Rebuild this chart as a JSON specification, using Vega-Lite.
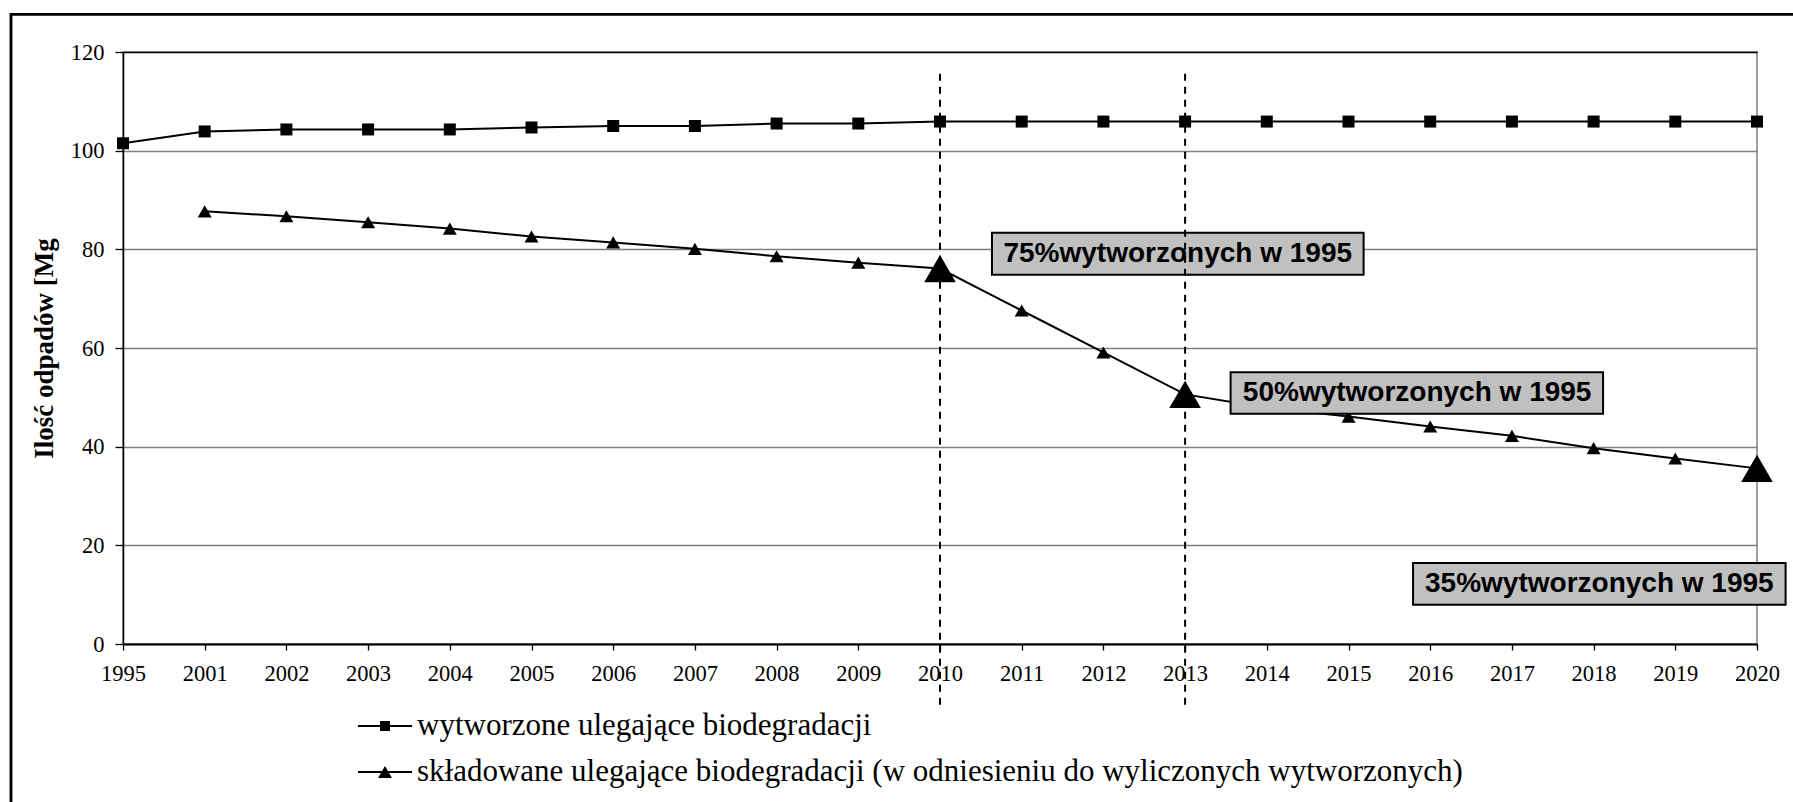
{
  "$schema": "https://vega.github.io/schema/vega-lite/v6.json",
  "width": 1634,
  "height": 592,
  "autosize": "none",
  "padding": {"left": 123, "top": 52, "right": 36, "bottom": 158},
  "background": "white",
  "config": {
    "view": {"stroke": "#808080", "strokeWidth": 1.5},
    "font": "Liberation Serif"
  },
  "datasets": {
    "dane": [
      {"pos": 0, "rok": "1995", "seria": "wytworzone ulegające biodegradacji", "wartosc": 101.5, "cel": false},
      {"pos": 1, "rok": "2001", "seria": "wytworzone ulegające biodegradacji", "wartosc": 103.9, "cel": false},
      {"pos": 2, "rok": "2002", "seria": "wytworzone ulegające biodegradacji", "wartosc": 104.3, "cel": false},
      {"pos": 3, "rok": "2003", "seria": "wytworzone ulegające biodegradacji", "wartosc": 104.3, "cel": false},
      {"pos": 4, "rok": "2004", "seria": "wytworzone ulegające biodegradacji", "wartosc": 104.3, "cel": false},
      {"pos": 5, "rok": "2005", "seria": "wytworzone ulegające biodegradacji", "wartosc": 104.7, "cel": false},
      {"pos": 6, "rok": "2006", "seria": "wytworzone ulegające biodegradacji", "wartosc": 105.0, "cel": false},
      {"pos": 7, "rok": "2007", "seria": "wytworzone ulegające biodegradacji", "wartosc": 105.0, "cel": false},
      {"pos": 8, "rok": "2008", "seria": "wytworzone ulegające biodegradacji", "wartosc": 105.5, "cel": false},
      {"pos": 9, "rok": "2009", "seria": "wytworzone ulegające biodegradacji", "wartosc": 105.5, "cel": false},
      {"pos": 10, "rok": "2010", "seria": "wytworzone ulegające biodegradacji", "wartosc": 105.9, "cel": false},
      {"pos": 11, "rok": "2011", "seria": "wytworzone ulegające biodegradacji", "wartosc": 105.9, "cel": false},
      {"pos": 12, "rok": "2012", "seria": "wytworzone ulegające biodegradacji", "wartosc": 105.9, "cel": false},
      {"pos": 13, "rok": "2013", "seria": "wytworzone ulegające biodegradacji", "wartosc": 105.9, "cel": false},
      {"pos": 14, "rok": "2014", "seria": "wytworzone ulegające biodegradacji", "wartosc": 105.9, "cel": false},
      {"pos": 15, "rok": "2015", "seria": "wytworzone ulegające biodegradacji", "wartosc": 105.9, "cel": false},
      {"pos": 16, "rok": "2016", "seria": "wytworzone ulegające biodegradacji", "wartosc": 105.9, "cel": false},
      {"pos": 17, "rok": "2017", "seria": "wytworzone ulegające biodegradacji", "wartosc": 105.9, "cel": false},
      {"pos": 18, "rok": "2018", "seria": "wytworzone ulegające biodegradacji", "wartosc": 105.9, "cel": false},
      {"pos": 19, "rok": "2019", "seria": "wytworzone ulegające biodegradacji", "wartosc": 105.9, "cel": false},
      {"pos": 20, "rok": "2020", "seria": "wytworzone ulegające biodegradacji", "wartosc": 105.9, "cel": false},
      {"pos": 1, "rok": "2001", "seria": "składowane ulegające biodegradacji (w odniesieniu do wyliczonych wytworzonych)", "wartosc": 87.7, "cel": false},
      {"pos": 2, "rok": "2002", "seria": "składowane ulegające biodegradacji (w odniesieniu do wyliczonych wytworzonych)", "wartosc": 86.7, "cel": false},
      {"pos": 3, "rok": "2003", "seria": "składowane ulegające biodegradacji (w odniesieniu do wyliczonych wytworzonych)", "wartosc": 85.5, "cel": false},
      {"pos": 4, "rok": "2004", "seria": "składowane ulegające biodegradacji (w odniesieniu do wyliczonych wytworzonych)", "wartosc": 84.2, "cel": false},
      {"pos": 5, "rok": "2005", "seria": "składowane ulegające biodegradacji (w odniesieniu do wyliczonych wytworzonych)", "wartosc": 82.6, "cel": false},
      {"pos": 6, "rok": "2006", "seria": "składowane ulegające biodegradacji (w odniesieniu do wyliczonych wytworzonych)", "wartosc": 81.4, "cel": false},
      {"pos": 7, "rok": "2007", "seria": "składowane ulegające biodegradacji (w odniesieniu do wyliczonych wytworzonych)", "wartosc": 80.1, "cel": false},
      {"pos": 8, "rok": "2008", "seria": "składowane ulegające biodegradacji (w odniesieniu do wyliczonych wytworzonych)", "wartosc": 78.6, "cel": false},
      {"pos": 9, "rok": "2009", "seria": "składowane ulegające biodegradacji (w odniesieniu do wyliczonych wytworzonych)", "wartosc": 77.3, "cel": false},
      {"pos": 10, "rok": "2010", "seria": "składowane ulegające biodegradacji (w odniesieniu do wyliczonych wytworzonych)", "wartosc": 76.1, "cel": true},
      {"pos": 11, "rok": "2011", "seria": "składowane ulegające biodegradacji (w odniesieniu do wyliczonych wytworzonych)", "wartosc": 67.6, "cel": false},
      {"pos": 12, "rok": "2012", "seria": "składowane ulegające biodegradacji (w odniesieniu do wyliczonych wytworzonych)", "wartosc": 59.1, "cel": false},
      {"pos": 13, "rok": "2013", "seria": "składowane ulegające biodegradacji (w odniesieniu do wyliczonych wytworzonych)", "wartosc": 50.6, "cel": true},
      {"pos": 14, "rok": "2014", "seria": "składowane ulegające biodegradacji (w odniesieniu do wyliczonych wytworzonych)", "wartosc": 47.9, "cel": false},
      {"pos": 15, "rok": "2015", "seria": "składowane ulegające biodegradacji (w odniesieniu do wyliczonych wytworzonych)", "wartosc": 46.1, "cel": false},
      {"pos": 16, "rok": "2016", "seria": "składowane ulegające biodegradacji (w odniesieniu do wyliczonych wytworzonych)", "wartosc": 44.1, "cel": false},
      {"pos": 17, "rok": "2017", "seria": "składowane ulegające biodegradacji (w odniesieniu do wyliczonych wytworzonych)", "wartosc": 42.2, "cel": false},
      {"pos": 18, "rok": "2018", "seria": "składowane ulegające biodegradacji (w odniesieniu do wyliczonych wytworzonych)", "wartosc": 39.7, "cel": false},
      {"pos": 19, "rok": "2019", "seria": "składowane ulegające biodegradacji (w odniesieniu do wyliczonych wytworzonych)", "wartosc": 37.6, "cel": false},
      {"pos": 20, "rok": "2020", "seria": "składowane ulegające biodegradacji (w odniesieniu do wyliczonych wytworzonych)", "wartosc": 35.6, "cel": true}
    ],
    "opisy": [
      {"tekst": "75%wytworzonych w 1995", "x1": 10.636, "x2": 15.185, "y1": 74.85, "y2": 83.37, "xm": 12.91, "ym": 79.11},
      {"tekst": "50%wytworzonych w 1995", "x1": 13.557, "x2": 18.116, "y1": 46.65, "y2": 55.09, "xm": 15.84, "ym": 50.87},
      {"tekst": "35%wytworzonych w 1995", "x1": 15.79, "x2": 20.35, "y1": 7.97, "y2": 16.43, "xm": 18.07, "ym": 12.2}
    ],
    "znaczniki": [
      {"pos": 10, "gora": 115.6, "dol": -12.5},
      {"pos": 13, "gora": 115.6, "dol": -12.5}
    ]
  },
  "layer": [
    {
      "data": {"name": "znaczniki"},
      "mark": {"type": "rect", "fill": null, "fillOpacity": 0, "stroke": "black", "strokeWidth": 2.5},
      "encoding": {
        "x": {"datum": -1.371, "type": "quantitative", "scale": {"domain": [0, 20], "nice": false, "zero": false}},
        "x2": {"datum": 22},
        "y": {"datum": 127.65, "type": "quantitative", "scale": {"domain": [0, 120], "nice": false}},
        "y2": {"datum": -40}
      }
    },
    {
      "data": {"name": "dane"},
      "mark": {"type": "line", "color": "black", "strokeWidth": 2},
      "encoding": {
        "x": {
          "field": "pos", "type": "quantitative",
          "scale": {"domain": [0, 20], "nice": false, "zero": false},
          "axis": {
            "values": [0,1,2,3,4,5,6,7,8,9,10,11,12,13,14,15,16,17,18,19,20],
            "labelExpr": "['1995','2001','2002','2003','2004','2005','2006','2007','2008','2009','2010','2011','2012','2013','2014','2015','2016','2017','2018','2019','2020'][datum.value]",
            "title": null,
            "grid": false,
            "labelFont": "Liberation Serif",
            "labelFontSize": 22.5,
            "labelColor": "black",
            "labelPadding": 12,
            "labelFlush": false,
            "labelOverlap": false,
            "tickSize": 6,
            "tickColor": "black",
            "tickWidth": 1.3,
            "domainColor": "black",
            "domainWidth": 2
          }
        },
        "y": {
          "field": "wartosc", "type": "quantitative",
          "scale": {"domain": [0, 120], "nice": false},
          "axis": {
            "values": [0, 20, 40, 60, 80, 100, 120],
            "title": "Ilość odpadów [Mg",
            "titleFont": "Liberation Serif",
            "titleFontSize": 27,
            "titleFontWeight": "bold",
            "titleColor": "black",
            "titlePadding": 12,
            "labelFont": "Liberation Serif",
            "labelFontSize": 22.5,
            "labelColor": "black",
            "labelPadding": 11,
            "tickSize": 8,
            "tickColor": "black",
            "tickWidth": 1.3,
            "domainColor": "black",
            "domainWidth": 1.5,
            "grid": true,
            "gridColor": {"condition": {"test": "datum.value === 120", "value": "black"}, "value": "#808080"},
            "gridWidth": 1.5
          }
        },
        "detail": {"field": "seria", "type": "nominal"}
      }
    },
    {
      "data": {"name": "dane"},
      "transform": [{"filter": "datum.seria === 'wytworzone ulegające biodegradacji'"}],
      "mark": {"type": "point", "shape": "square", "size": 144, "filled": true, "color": "black", "opacity": 1, "strokeWidth": 0},
      "encoding": {
        "x": {"field": "pos", "type": "quantitative", "scale": {"domain": [0, 20], "nice": false, "zero": false}},
        "y": {"field": "wartosc", "type": "quantitative", "scale": {"domain": [0, 120], "nice": false}}
      }
    },
    {
      "data": {"name": "dane"},
      "transform": [{"filter": "datum.seria !== 'wytworzone ulegające biodegradacji'"}],
      "mark": {"type": "point", "shape": "triangle-up", "size": 196, "filled": true, "color": "black", "opacity": 1, "strokeWidth": 0},
      "encoding": {
        "x": {"field": "pos", "type": "quantitative", "scale": {"domain": [0, 20], "nice": false, "zero": false}},
        "y": {"field": "wartosc", "type": "quantitative", "scale": {"domain": [0, 120], "nice": false}}
      }
    },
    {
      "data": {"name": "dane"},
      "transform": [{"filter": "datum.cel === true"}],
      "mark": {"type": "point", "shape": "triangle-up", "filled": true, "color": "black", "opacity": 1, "size": 1000, "strokeWidth": 0},
      "encoding": {
        "x": {"field": "pos", "type": "quantitative", "scale": {"domain": [0, 20], "nice": false, "zero": false}},
        "y": {"field": "wartosc", "type": "quantitative", "scale": {"domain": [0, 120], "nice": false}}
      }
    },
    {
      "data": {"name": "dane"},
      "mark": {"type": "point", "filled": true, "color": "black", "size": 0, "opacity": 1, "strokeWidth": 0},
      "encoding": {
        "x": {"field": "pos", "type": "quantitative", "scale": {"domain": [0, 20], "nice": false, "zero": false}},
        "y": {"field": "wartosc", "type": "quantitative", "scale": {"domain": [0, 120], "nice": false}},
        "shape": {
          "field": "seria", "type": "nominal",
          "scale": {
            "domain": ["wytworzone ulegające biodegradacji", "składowane ulegające biodegradacji (w odniesieniu do wyliczonych wytworzonych)"],
            "range": ["M-1.35,-0.05H1.35V0.05H-1.35ZM-0.25,-0.25H0.25V0.25H-0.25Z", "M-1.35,-0.05H1.35V0.05H-1.35ZM0,-0.3L0.35,0.3H-0.35Z"]
          },
          "legend": {
            "orient": "none",
            "legendX": 242,
            "legendY": 654,
            "title": null,
            "direction": "vertical",
            "symbolSize": 1600,
            "symbolStrokeWidth": 0,
            "symbolFillColor": "black",
            "labelFont": "Liberation Serif",
            "labelFontSize": 31,
            "labelColor": "black",
            "labelLimit": 2000,
            "labelOffset": 12,
            "rowPadding": 11,
            "padding": 0,
            "encode": {
              "symbols": {
                "update": {
                  "size": {"value": 1600},
                  "fill": {"value": "black"},
                  "opacity": {"value": 1}
                }
              }
            }
          }
        }
      }
    },
    {
      "data": {"name": "opisy"},
      "mark": {"type": "rect", "fill": "#c0c0c0", "stroke": "black", "strokeWidth": 2},
      "encoding": {
        "x": {"field": "x1", "type": "quantitative", "scale": {"domain": [0, 20], "nice": false, "zero": false}},
        "x2": {"field": "x2"},
        "y": {"field": "y1", "type": "quantitative", "scale": {"domain": [0, 120], "nice": false}},
        "y2": {"field": "y2"}
      }
    },
    {
      "data": {"name": "opisy"},
      "mark": {"type": "text", "font": "Liberation Sans", "fontWeight": "bold", "fontSize": 28, "color": "black", "align": "center", "baseline": "middle"},
      "encoding": {
        "x": {"field": "xm", "type": "quantitative", "scale": {"domain": [0, 20], "nice": false, "zero": false}},
        "y": {"field": "ym", "type": "quantitative", "scale": {"domain": [0, 120], "nice": false}},
        "text": {"field": "tekst", "type": "nominal"}
      }
    },
    {
      "data": {"name": "znaczniki"},
      "mark": {"type": "rule", "color": "black", "strokeWidth": 2, "strokeDash": [7, 6]},
      "encoding": {
        "x": {"field": "pos", "type": "quantitative", "scale": {"domain": [0, 20], "nice": false, "zero": false}},
        "y": {"field": "gora", "type": "quantitative", "scale": {"domain": [0, 120], "nice": false}},
        "y2": {"field": "dol"}
      }
    }
  ]
}
